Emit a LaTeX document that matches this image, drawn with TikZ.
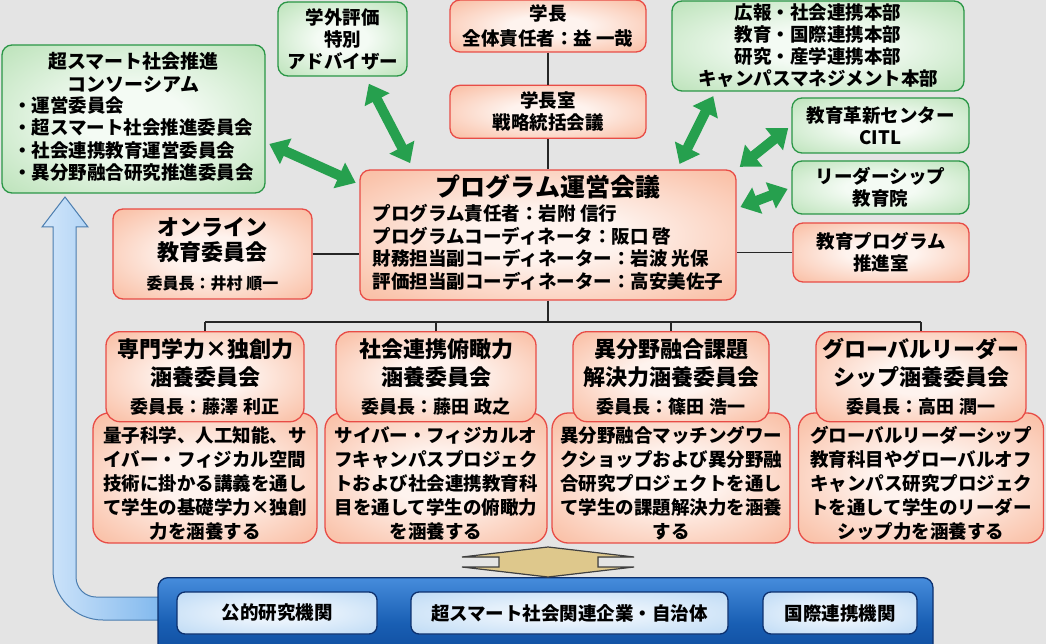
\documentclass[tikz,border=0pt]{standalone}
\usepackage{fontspec}
\setmainfont{Noto Sans CJK JP}
\usetikzlibrary{arrows.meta,positioning}
\definecolor{bggray}{RGB}{228,228,228}
\definecolor{redline}{RGB}{232,76,70}
\definecolor{salmonin}{RGB}{254,243,238}
\definecolor{salmonmid}{RGB}{250,196,172}
\definecolor{salmonout}{RGB}{246,160,126}
\definecolor{greenline}{RGB}{42,150,70}
\definecolor{greenin}{RGB}{244,251,244}
\definecolor{greenmid}{RGB}{196,230,194}
\definecolor{greenout}{RGB}{150,210,150}
\definecolor{arrowgreen}{RGB}{38,160,78}
\definecolor{arrowrim}{RGB}{150,215,165}
\definecolor{navyline}{RGB}{12,48,110}
\definecolor{bartop}{RGB}{70,140,220}
\definecolor{barmid}{RGB}{25,95,180}
\definecolor{barbot}{RGB}{12,70,150}
\definecolor{bluein}{RGB}{234,243,252}
\definecolor{bluemid}{RGB}{196,222,246}
\definecolor{blueout}{RGB}{140,188,232}
\definecolor{upleft}{RGB}{210,230,250}
\definecolor{upright}{RGB}{130,185,238}
\definecolor{upline}{RGB}{75,125,175}
\definecolor{beige}{RGB}{222,200,140}

\pgfdeclareradialshading{salmonglow}{\pgfpoint{0bp}{0bp}}{color(0bp)=(salmonin); color(10bp)=(salmonin); color(32bp)=(salmonmid); color(52bp)=(salmonout)}
\pgfdeclareradialshading{greenglow}{\pgfpoint{0bp}{0bp}}{color(0bp)=(greenin); color(10bp)=(greenin); color(32bp)=(greenmid); color(52bp)=(greenout)}
\pgfdeclareradialshading{blueglow}{\pgfpoint{0bp}{0bp}}{color(0bp)=(bluein); color(10bp)=(bluein); color(32bp)=(bluemid); color(52bp)=(blueout)}

\newcommand{\fbody}{\fontsize{18.5}{22}\selectfont\bfseries}
\newcommand{\fbig}{\fontsize{22}{28}\selectfont\bfseries}
\newcommand{\fchair}{\fontsize{18}{22}\selectfont\bfseries}
\newcommand{\dtop}{\rule{0pt}{26pt}}

\begin{document}
\begin{tikzpicture}[
  x=1pt, y=-1pt,
  redbox/.style={draw=redline, line width=1.3pt, rounded corners=10pt, shading=salmonglow, align=center, inner sep=0pt, font=\fbody},
  greenbox/.style={draw=greenline, line width=1.3pt, rounded corners=10pt, shading=greenglow, align=center, inner sep=0pt, font=\fbody},
  combox/.style={redbox, rounded corners=14pt, minimum height=90pt, font=\fbig},
  descbox/.style={redbox, rounded corners=16pt, minimum height=130pt, font=\fontsize{18.5}{24}\selectfont\bfseries},
  orgbox/.style={draw=navyline, line width=1.3pt, rounded corners=8pt, shading=blueglow, align=center, inner sep=0pt, minimum height=42pt, font=\fbody},
  conn/.style={draw=black!85, line width=1.6pt},
  biarrow/.style={{Triangle[width=27pt,length=18pt]}-{Triangle[width=27pt,length=18pt]}, draw=arrowgreen, line width=10pt, shorten <=4pt, shorten >=4pt}
]
\useasboundingbox (0,0) rectangle (1046,644);
\fill[bggray] (0,0) rectangle (1046,644);

\draw[draw=upline, line width=1pt, left color=upleft, right color=upright] (160,620) -- (103,620) arc[start angle=90, end angle=180, radius=50] -- (53,227) -- (42,227) -- (65,197) -- (88,227) -- (76,227) -- (76,577) arc[start angle=180, end angle=90, radius=20] -- (160,597) -- cycle;

\node[draw=navyline, line width=1.3pt, rounded corners=10pt, top color=bartop, bottom color=barbot, middle color=barmid, minimum width=775pt, minimum height=90pt, anchor=north, inner sep=0pt] (bar) at (545.5,577) {};
\node[orgbox, minimum width=200pt] (kouteki) at (277,613) {公的研究機関};
\node[orgbox, minimum width=317pt] (kigyou) at (569.5,613) {超スマート社会関連企業・自治体};
\node[orgbox, minimum width=154pt] (kokusai) at (840,613) {国際連携機関};

\filldraw[draw=black!75, line width=1.2pt, left color=beige, middle color=white, right color=beige] (462,557) -- (548,547) -- (634,557) -- (598,557) -- (598,567) -- (634,567) -- (548,577) -- (462,567) -- (499,567) -- (499,557) -- cycle;

\node[greenbox, minimum width=263pt, minimum height=148pt, font=\fontsize{19}{23}\selectfont\bfseries] (consortium) at (133.5,119) {超スマート社会推進\\コンソーシアム\\[3pt]{\fbody\begin{tabular}{@{}l@{}}・運営委員会\\・超スマート社会推進委員会\\・社会連携教育運営委員会\\・異分野融合研究推進委員会\end{tabular}}};
\node[greenbox, minimum width=129pt, minimum height=74pt] (advisor) at (342.5,39) {学外評価\\特別\\アドバイザー};
\node[redbox, minimum width=196pt, minimum height=52pt, font=\fontsize{18.5}{25}\selectfont\bfseries] (president) at (548,26) {学長\\全体責任者：益 一哉};
\node[redbox, minimum width=196pt, minimum height=53pt, below=32pt of president] (office) {学長室\\戦略統括会議};
\node[greenbox, minimum width=292pt, minimum height=90pt] (hq) at (818,46) {広報・社会連携本部\\教育・国際連携本部\\研究・産学連携本部\\キャンパスマネジメント本部};
\node[greenbox, minimum width=177pt, minimum height=55pt] (citl) at (880.5,125.5) {教育革新センター\\CITL};
\node[greenbox, minimum width=177pt, minimum height=53pt] (leader) at (880.5,187.5) {リーダーシップ\\教育院};
\node[redbox, minimum width=176pt, minimum height=59pt] (eduprog) at (881,252.5) {教育プログラム\\推進室};

\node[redbox, minimum width=376pt, minimum height=130pt] (program) at (548,235) {{\fontsize{25}{30}\selectfont\bfseries プログラム運営会議}\\[4pt]\begin{tabular}{@{}l@{}}プログラム責任者：岩附 信行\\プログラムコーディネータ：阪口 啓\\財務担当副コーディネーター：岩波 光保\\評価担当副コーディネーター：高安美佐子\end{tabular}};
\node[redbox, minimum width=199pt, minimum height=90pt, font=\fontsize{22}{25}\selectfont\bfseries] (online) at (212.5,254) {オンライン\\教育委員会\\[4pt]{\fontsize{16}{20}\selectfont\bfseries 委員長：井村 順一}};

\node[descbox, minimum width=224pt] (desc1) at (205,478) {\dtop 量子科学、人工知能、サ\\イバー・フィジカル空間\\技術に掛かる講義を通し\\て学生の基礎学力×独創\\力を涵養する};
\node[descbox, minimum width=222pt] (desc2) at (436,478) {\dtop サイバー・フィジカルオ\\フキャンパスプロジェク\\トおよび社会連携教育科\\目を通して学生の俯瞰力\\を涵養する};
\node[descbox, minimum width=238pt] (desc3) at (671,478) {\dtop 異分野融合マッチングワー\\クショップおよび異分野融\\合研究プロジェクトを通し\\て学生の課題解決力を涵養\\する};
\node[descbox, minimum width=245pt] (desc4) at (921,478) {\dtop グローバルリーダーシップ\\教育科目やグローバルオフ\\キャンパス研究プロジェク\\トを通して学生のリーダー\\シップ力を涵養する};

\node[combox, minimum width=198pt, above=-10pt of desc1] (com1) {専門学力×独創力\\涵養委員会\\{\fchair 委員長：藤澤 利正}};
\node[combox, minimum width=200pt, above=-10pt of desc2] (com2) {社会連携俯瞰力\\涵養委員会\\{\fchair 委員長：藤田 政之}};
\node[combox, minimum width=196pt, above=-10pt of desc3] (com3) {異分野融合課題\\解決力涵養委員会\\{\fchair 委員長：篠田 浩一}};
\node[combox, minimum width=210pt, above=-10pt of desc4] (com4) {グローバルリーダー\\シップ涵養委員会\\{\fchair 委員長：高田 潤一}};

\draw[conn] (president) -- (office);
\draw[conn] (office) -- (program);
\draw[conn] (online.east) -- (online.east -| program.west);
\draw[conn] (eduprog.west) -- (eduprog.west -| program.east);
\coordinate (bus) at (548,322);
\draw[conn] (program.south) -- (bus);
\draw[conn] (com1.north |- bus) -- (com4.north |- bus);
\foreach \c in {com1,com2,com3,com4}
  \draw[conn] (\c.north |- bus) -- (\c.north);

\draw[biarrow] (consortium.-10) -- (program.165);
\draw[biarrow, shorten <=8pt, shorten >=7pt] (advisor.-59) -- (program.154);
\draw[biarrow, shorten <=5pt, shorten >=6pt] (hq.204) -- (program.27);
\draw[biarrow] (citl.west) -- (program.north east);
\draw[biarrow] (leader.west) -- (program.8);

\end{tikzpicture}
\end{document}
